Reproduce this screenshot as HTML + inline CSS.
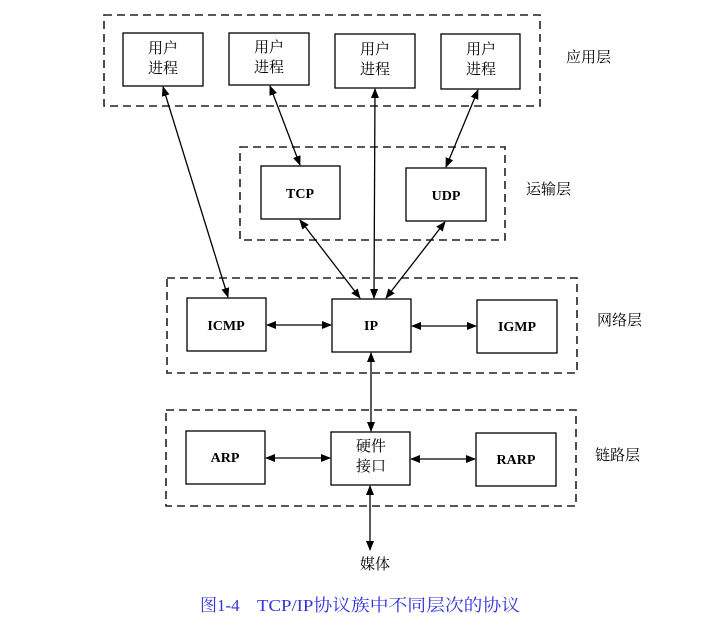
<!DOCTYPE html>
<html><head><meta charset="utf-8"><style>
html,body{margin:0;padding:0;background:#fff;width:722px;height:642px;overflow:hidden}
text{font-family:"Liberation Serif","Noto Serif CJK SC",serif}
.c{font-family:"Liberation Sans","Noto Sans CJK SC",sans-serif;font-size:15px}
.e{font-family:"Liberation Serif",serif;font-size:14px;font-weight:bold}
</style></head><body>
<svg width="722" height="642" viewBox="0 0 722 642" xmlns="http://www.w3.org/2000/svg">
<defs><marker id="a" markerWidth="10" markerHeight="8" refX="9" refY="4" orient="auto-start-reverse" markerUnits="userSpaceOnUse"><path d="M0,0L10,4L0,8z" fill="#000"/></marker></defs>
<g fill="none" stroke="#222" stroke-width="1.6" stroke-dasharray="8,5">
<rect x="104" y="15" width="436" height="91"/>
<rect x="240" y="147" width="265" height="93"/>
<rect x="167" y="278" width="410" height="95"/>
<rect x="166" y="410" width="410" height="96"/>
</g>
<g fill="#fff" stroke="#000" stroke-width="1.3">
<rect x="123" y="33" width="80" height="53"/>
<rect x="229" y="33" width="80" height="52"/>
<rect x="335" y="34" width="80" height="54"/>
<rect x="441" y="34" width="79" height="55"/>
<rect x="261" y="166" width="79" height="53"/>
<rect x="406" y="168" width="80" height="53"/>
<rect x="187" y="298" width="79" height="53"/>
<rect x="332" y="299" width="79" height="53"/>
<rect x="477" y="300" width="80" height="53"/>
<rect x="186" y="431" width="79" height="53"/>
<rect x="331" y="432" width="79" height="53"/>
<rect x="476" y="433" width="80" height="53"/>
</g>
<g stroke="#000" stroke-width="1.3" marker-start="url(#a)" marker-end="url(#a)">
<line x1="163" y1="87" x2="228" y2="297"/>
<line x1="270" y1="86" x2="300" y2="165"/>
<line x1="375" y1="89" x2="374" y2="298"/>
<line x1="478" y1="90" x2="446" y2="167"/>
<line x1="300" y1="220" x2="360" y2="298"/>
<line x1="445" y1="222" x2="386" y2="298"/>
<line x1="267" y1="325" x2="331" y2="325"/>
<line x1="412" y1="326" x2="476" y2="326"/>
<line x1="371" y1="353" x2="371" y2="431"/>
<line x1="266" y1="458" x2="330" y2="458"/>
<line x1="411" y1="459" x2="475" y2="459"/>
<line x1="370" y1="486" x2="370" y2="550"/>
</g>
<g class="c" text-anchor="middle">
<text x="163" y="53">用户</text><text x="163" y="73">进程</text>
<text x="269" y="52">用户</text><text x="269" y="72">进程</text>
<text x="375" y="54">用户</text><text x="375" y="74">进程</text>
<text x="481" y="54">用户</text><text x="481" y="74">进程</text>
<text x="371" y="451">硬件</text><text x="371" y="471">接口</text>
<text x="375" y="569">媒体</text>
</g>
<g class="c">
<text x="566" y="62">应用层</text>
<text x="526" y="194">运输层</text>
<text x="597" y="325">网络层</text>
<text x="595" y="460">链路层</text>
</g>
<g class="e" text-anchor="middle">
<text x="300" y="198">TCP</text>
<text x="446" y="200">UDP</text>
<text x="226" y="330">ICMP</text>
<text x="371" y="330">IP</text>
<text x="517" y="331">IGMP</text>
<text x="225" y="462">ARP</text>
<text x="516" y="464">RARP</text>
</g>
<g fill="#3333dd" style="font-family:'Liberation Serif','Noto Serif CJK SC',serif;font-size:17px">
<text x="200" y="611">图1-4</text>
<text x="257" y="611" textLength="263" lengthAdjust="spacingAndGlyphs">TCP/IP协议族中不同层次的协议</text>
</g>
</svg>
</body></html>
